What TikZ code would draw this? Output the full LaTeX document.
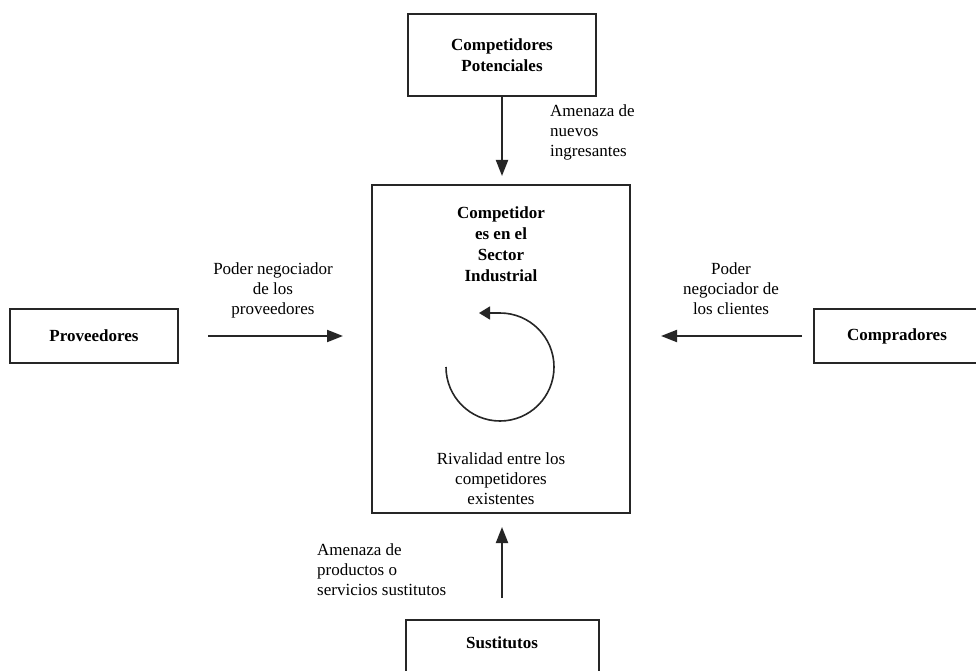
\documentclass[tikz,border=0pt]{standalone}
\usepackage{fontspec}
\setmainfont{Liberation Serif}
\usetikzlibrary{arrows.meta}
\begin{document}
\begin{tikzpicture}[x=1pt,y=-1pt,
  box/.style={draw=black!85,line width=2pt,inner sep=0pt,align=center,font=\bfseries\fontsize{17}{21}\selectfont},
  lbl/.style={inner sep=0pt,font=\fontsize{17}{20}\selectfont},
  arr/.style={line width=2pt,draw=black!85,-{Triangle[length=16pt,width=12pt]}}]
\useasboundingbox (0,0) rectangle (976,671);
\fill[white] (0,0) rectangle (976,671);
\node[box,minimum width=188pt,minimum height=82pt] (top) at (502,55) {Competidores\\Potenciales};
\node[draw=black!85,line width=2pt,minimum width=258pt,minimum height=328pt,inner sep=0pt] (ctr) at (501,349) {};
\node[box,minimum width=168pt,minimum height=54pt] (prov) at (94,336) {Proveedores};
\node[box,minimum width=166pt,minimum height=54pt] (comp) at (897,336) {Compradores};
\node[box,minimum width=193pt,minimum height=70pt] (sust) at (502,655) {};
\node[box,draw=none] (sustt) at (502,643) {Sustitutos};
% center texts
\node[lbl,font=\bfseries\fontsize{17}{21}\selectfont,align=center,anchor=north] (ctitle) at (501,207) {Competidor\\es en el\\Sector\\Industrial};
\node[lbl,align=center,anchor=north] (riv) at (501,452) {Rivalidad entre los\\competidores\\existentes};
% rotating arrow
\coordinate (arcstart) at (446,367);
\coordinate (arctip) at (479,313);
\draw[line width=1.6pt,black!85,-{Triangle[length=11pt,width=13pt]}] (arcstart) arc[start angle=180,end angle=450,radius=54pt] -- (arctip);
% connectors
\coordinate (lstart) at (208,336);
\coordinate (lend) at (343,336);
\coordinate (rstart) at (802,336);
\coordinate (rend) at (661,336);
\coordinate (bstart) at (502,598);
\coordinate (bend) at (502,527);
\coordinate (tend) at (502,176);
\draw[arr] (top.south) -- (tend);
\draw[arr] (lstart) -- (lend);
\draw[arr] (rstart) -- (rend);
\draw[arr] (bstart) -- (bend);
% labels
\node[lbl,align=left,anchor=north west] (l1) at (550,105) {Amenaza de\\nuevos\\ingresantes};
\node[lbl,align=center,anchor=north] (l2) at (273,263) {Poder negociador\\de los\\proveedores};
\node[lbl,align=center,anchor=north] (l3) at (731,263) {Poder\\negociador de\\los clientes};
\node[lbl,align=left,anchor=north west] (l4) at (317,543) {Amenaza de\\productos o\\servicios sustitutos};
\end{tikzpicture}
\end{document}
